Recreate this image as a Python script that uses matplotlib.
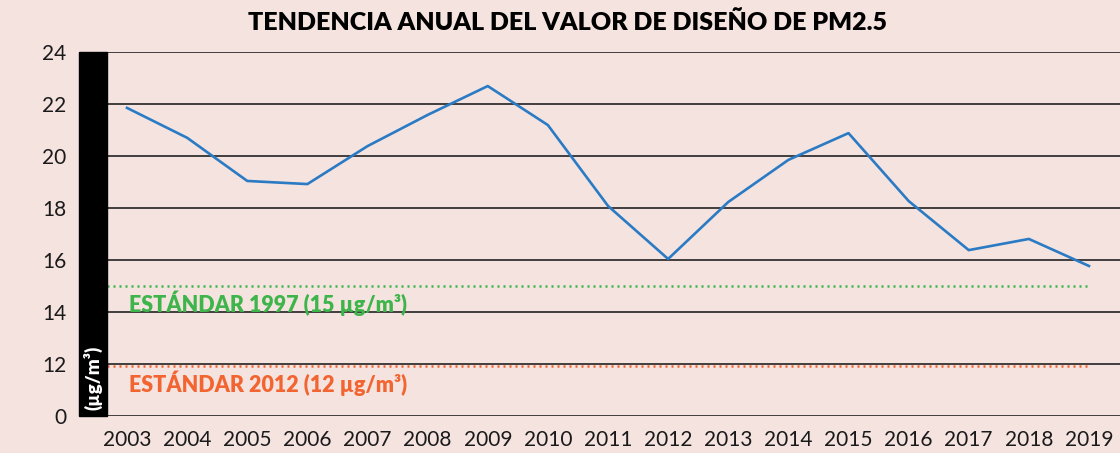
import matplotlib
matplotlib.use("Agg")
import matplotlib.pyplot as plt
from matplotlib.patches import Rectangle

# data
years = list(range(2003, 2020))
pm25 = [21.85, 20.7, 19.04, 18.92, 20.38, 21.58, 22.69, 21.19, 18.08,
        16.04, 18.23, 19.85, 20.88, 18.27, 16.38, 16.81, 15.77]
std_1997 = 15
std_2012 = 12
y_ticks = [10, 12, 14, 16, 18, 20, 22, 24]
y_ticklabels = ["0", "12", "14", "16", "18", "20", "22", "24"]

bg = "#f5e3e0"
blue = "#2a7bc4"
green = "#3db54a"
orange = "#f26531"

plt.rcParams['font.family'] = ['Lato', 'DejaVu Sans']

fig = plt.figure(figsize=(11.2, 4.53), dpi=100, facecolor=bg)
ax = fig.add_axes([107 / 1120, 1 - 416 / 453, 1013 / 1120, 364 / 453])
ax.set_facecolor(bg)

ax.set_xlim(2002.667, 2019.516)
ax.set_ylim(10, 24)

# horizontal grid lines
for v in y_ticks:
    ax.axhline(v, color="#222222", lw=1.2, zorder=1)

# standards (orange drawn a hair below its grid line, as in the original)
ax.plot([years[0] - 0.33, years[-1]], [std_1997, std_1997], color=green, lw=1.8,
        linestyle=(0, (0.8, 1.6)), zorder=2)
ax.plot([years[0] - 0.33, years[-1]], [std_2012 - 0.07, std_2012 - 0.07], color=orange,
        lw=1.8, linestyle=(0, (0.8, 1.6)), zorder=2)
ax.text(2003.03, 14.33, "ESTÁNDAR 1997 (15 µg/m³)", color=green, fontsize=15.5,
        fontweight="heavy", va="center", ha="left")
ax.text(2003.03, 11.25, "ESTÁNDAR 2012 (12 µg/m³)", color=orange, fontsize=15.5,
        fontweight="heavy", va="center", ha="left")

# main series
ax.plot(years, pm25, color=blue, lw=1.9, zorder=3)

for s in ax.spines.values():
    s.set_visible(False)

ax.set_xticks(years)
ax.set_xticklabels([str(y) for y in years])
ax.set_yticks(y_ticks)
ax.set_yticklabels(y_ticklabels)
ax.tick_params(axis="x", length=0, pad=10, labelsize=15, colors="#1a1a1a")
ax.tick_params(axis="y", length=0, pad=29, labelsize=15, colors="#1a1a1a")

# black bar with unit label
ax.add_patch(Rectangle((-28 / 1013, 0), 28 / 1013, 1, transform=ax.transAxes,
                       color="black", clip_on=False, zorder=4))
ax.text(-14 / 1013, 38 / 364, "(µg/m³)", transform=ax.transAxes, rotation=90,
        color="white", fontsize=13.5, fontweight="heavy", ha="center", va="center",
        zorder=5)

fig.text(567 / 1120, 1 - 23 / 453, "TENDENCIA ANUAL DEL VALOR DE DISEÑO DE PM2.5",
         ha="center", va="center", fontsize=18, fontweight="heavy", color="black")

fig.savefig("out.png", dpi=100, facecolor=bg)
